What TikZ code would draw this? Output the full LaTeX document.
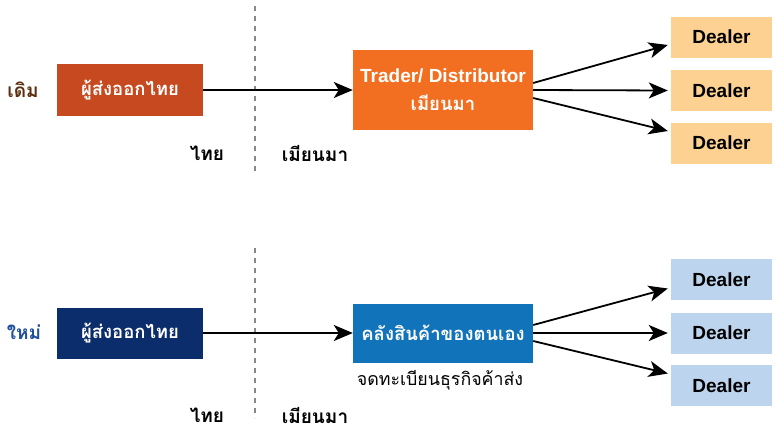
\documentclass[tikz,border=0pt]{standalone}
\usepackage{fontspec}
\setmainfont{Liberation Sans}
\newfontfamily\thaifont[Script=Thai]{Loma}
\usetikzlibrary{arrows.meta}
\definecolor{rust}{HTML}{C6491F}
\definecolor{tradeorange}{HTML}{F26F21}
\definecolor{peach}{HTML}{FDD191}
\definecolor{navy}{HTML}{0C2D6B}
\definecolor{stockblue}{HTML}{1173B9}
\definecolor{paleblue}{HTML}{BCD4EE}
\definecolor{oldbrown}{HTML}{5B2E0E}
\definecolor{newblue}{HTML}{1F4E9C}
\definecolor{border}{HTML}{888888}
\begin{document}
\begin{tikzpicture}[x=1pt, y=-1pt,
  thai/.style={font=\thaifont\bfseries\fontsize{19}{23}\selectfont},
  box/.style={font=\thaifont\bfseries\fontsize{18.5}{22}\selectfont, text=white, inner sep=0pt, align=center},
  dealer/.style={minimum width=101pt, minimum height=41pt, inner sep=0pt, font=\bfseries\fontsize{19}{22}\selectfont},
  flow/.style={line width=1.8pt, -{Stealth[length=19pt, width=16pt, inset=5pt]}},
  sep/.style={border, line width=1.3pt, dash pattern=on 5pt off 5pt}]
\useasboundingbox (0,0) rectangle (779,437);
\node[thai, text=oldbrown] (old) at (23,90){เดิม};
\node[box, fill=rust, minimum width=146pt, minimum height=52pt] (exp1) at (130,90){ผู้ส่งออกไทย};
\node[box, fill=tradeorange, minimum width=180pt, minimum height=80pt] (trader) at (443,90){{\normalfont\bfseries\fontsize{19}{22}\selectfont Trader/ Distributor}\\[6pt]เมียนมา};
\node[dealer, fill=peach] (d1) at (721.5,37){Dealer};
\node[dealer, fill=peach] (d2) at (721.5,90.5){Dealer};
\node[dealer, fill=peach] (d3) at (721.5,143){Dealer};
\coordinate (sep1a) at (255,6);
\coordinate (sep1b) at (255,174);
\draw[sep](sep1a) -- (sep1b);
\node[thai] (th1) at (207,153){ไทย};
\node[thai] (mm1) at (315,153){เมียนมา};
\draw[flow](exp1) -- (trader);
\draw[flow]([yshift=7pt]trader.east) -- ([xshift=-3pt, yshift=-8pt]d1.west);
\draw[flow](trader.east) -- ([xshift=-3pt]d2.west);
\draw[flow]([yshift=-8pt]trader.east) -- ([xshift=-3pt, yshift=12pt]d3.west);
\node[thai, text=newblue] (new) at (24,332){ใหม่};
\node[box, fill=navy, minimum width=146pt, minimum height=51pt] (exp2) at (130,333){ผู้ส่งออกไทย};
\node[box, fill=stockblue, minimum width=180pt, minimum height=59pt] (stock) at (443,333){คลังสินค้าของตนเอง};
\node[font=\thaifont\fontsize{17.8}{21}\selectfont] (reg) at (440,380){จดทะเบียนธุรกิจค้าส่ง};
\node[dealer, fill=paleblue] (d4) at (721.5,279.5){Dealer};
\node[dealer, fill=paleblue] (d5) at (721.5,333){Dealer};
\node[dealer, fill=paleblue] (d6) at (721.5,385.5){Dealer};
\coordinate (sep2a) at (255,248);
\coordinate (sep2b) at (255,418);
\draw[sep](sep2a) -- (sep2b);
\node[thai] (th2) at (207,415){ไทย};
\node[thai] (mm2) at (315,415){เมียนมา};
\draw[flow](exp2) -- (stock);
\draw[flow]([yshift=8pt]stock.east) -- ([xshift=-3pt, yshift=-9pt]d4.west);
\draw[flow](stock.east) -- ([xshift=-3pt]d5.west);
\draw[flow]([yshift=-8pt]stock.east) -- ([xshift=-3pt, yshift=12pt]d6.west);
\end{tikzpicture}
\end{document}
